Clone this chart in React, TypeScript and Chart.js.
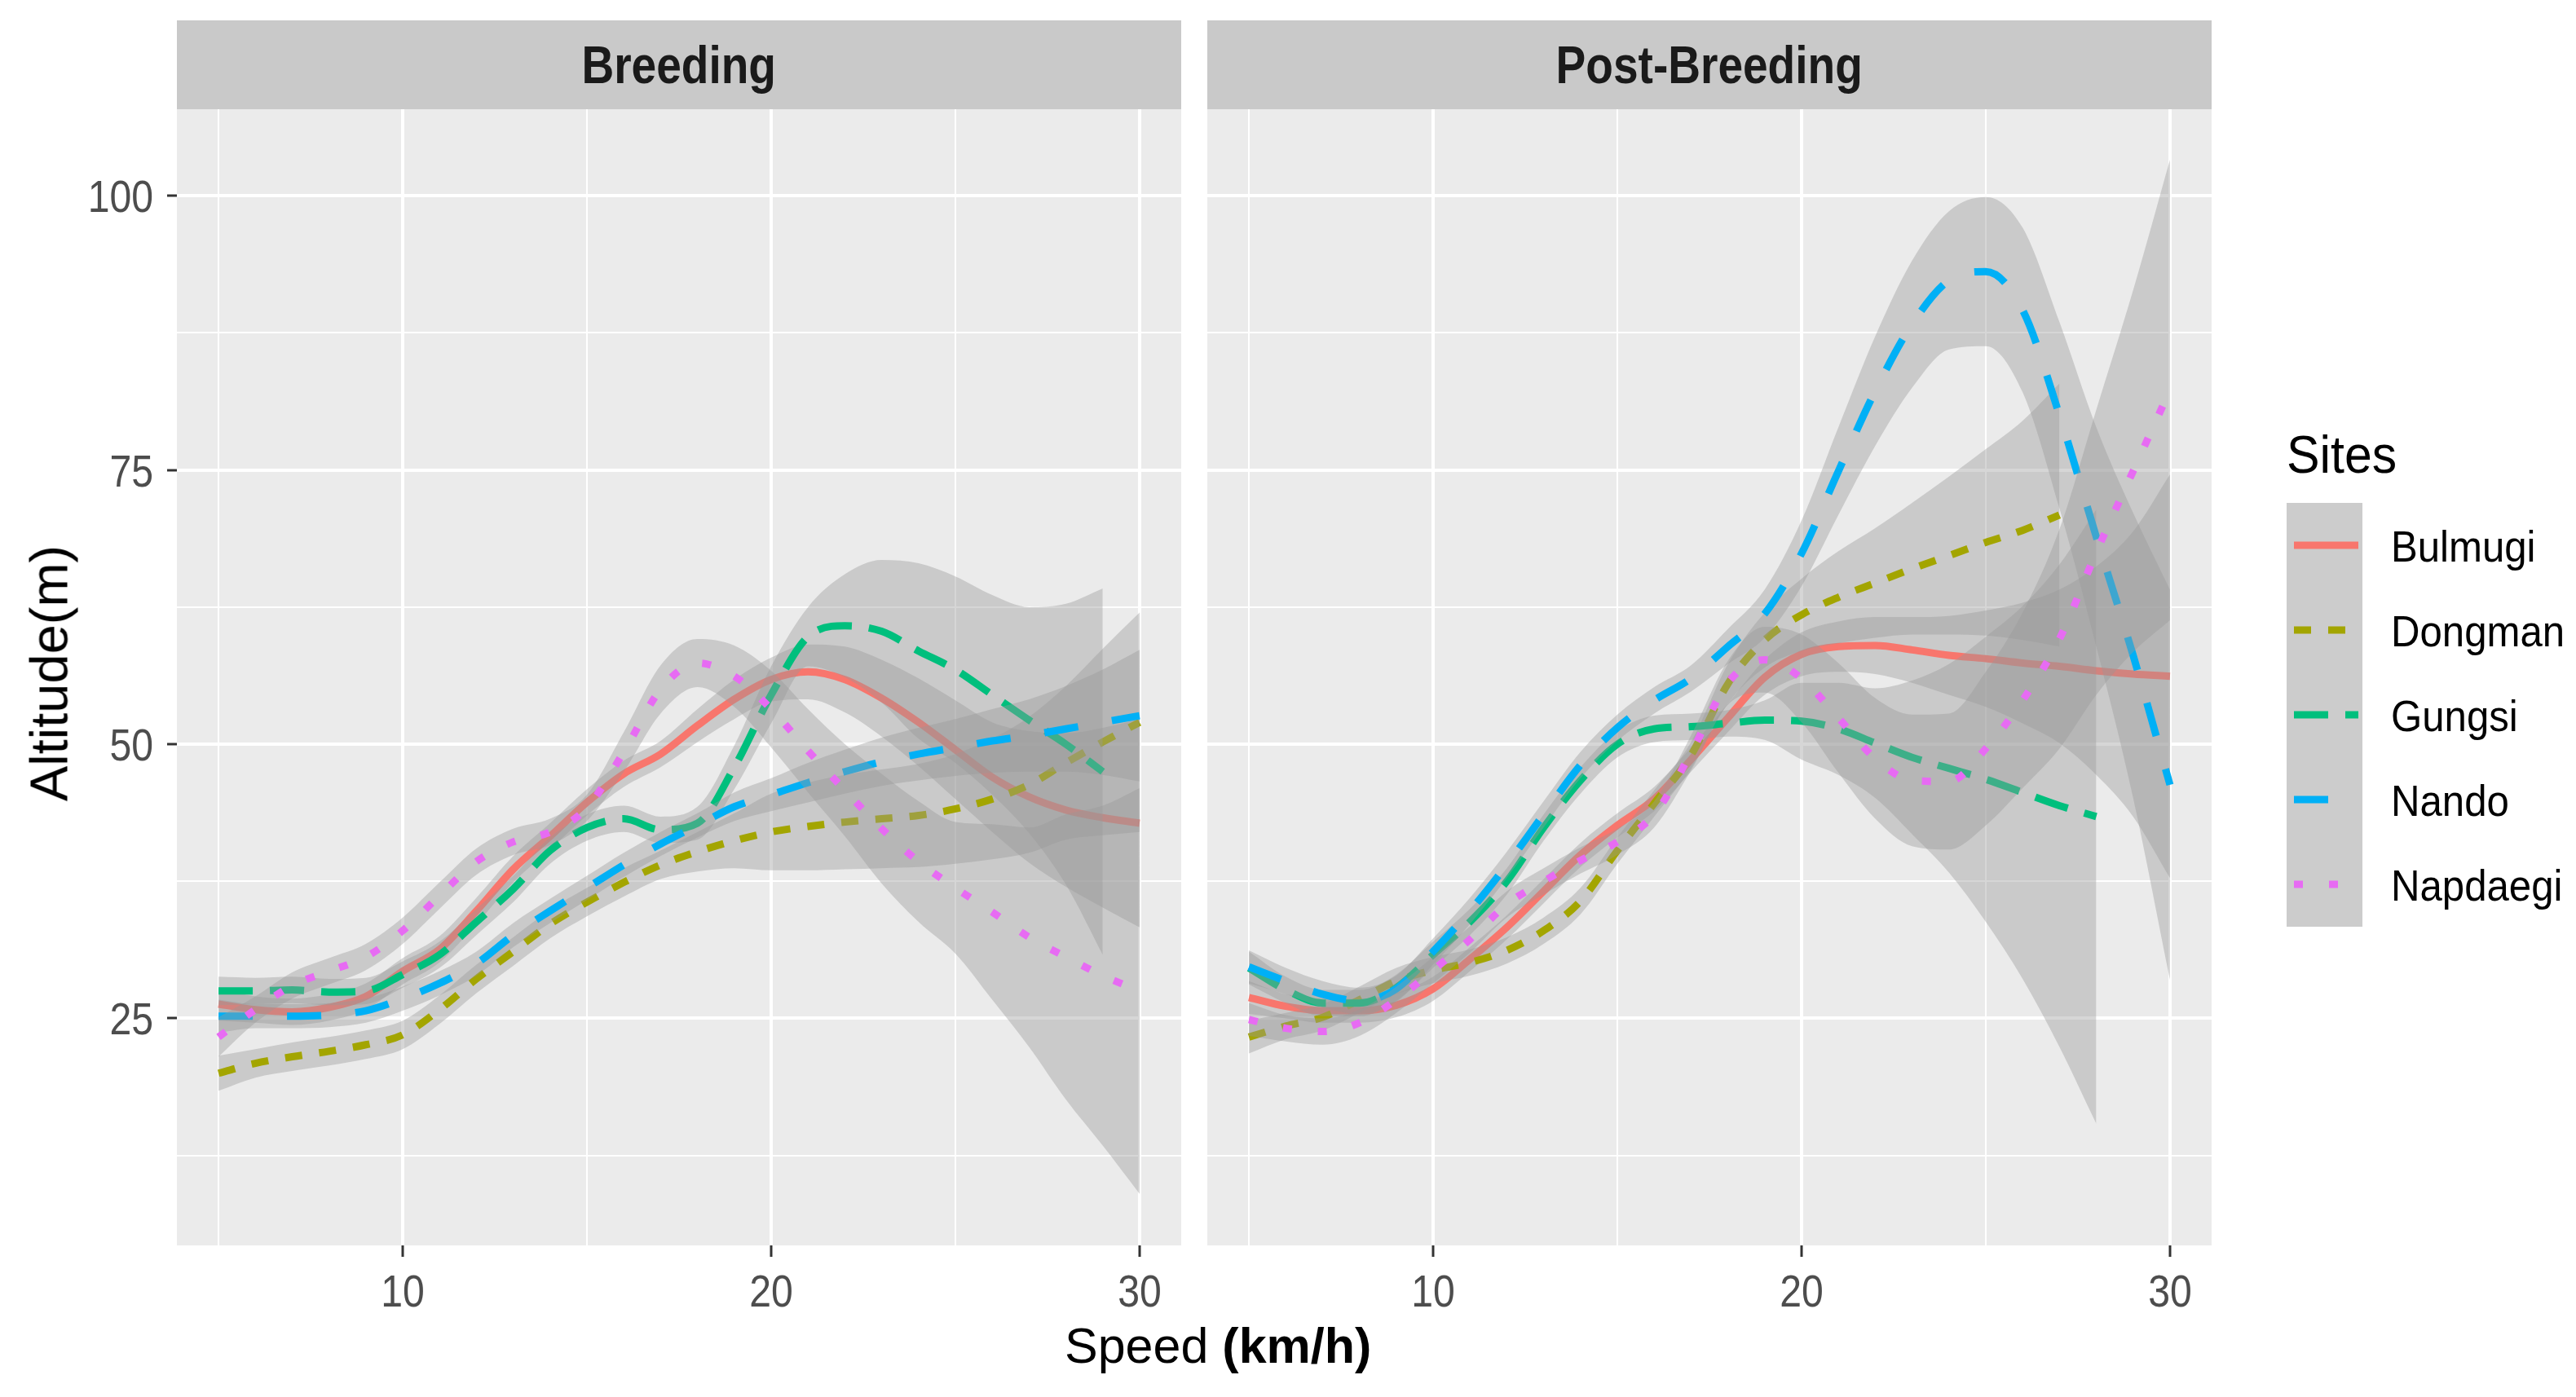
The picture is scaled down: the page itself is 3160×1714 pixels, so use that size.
import React, { useEffect, useRef } from "react";
import { Chart, registerables } from "chart.js";

Chart.register(...registerables);

// ---- axes ----
const SPEED = [5, 6, 7, 8, 9, 10, 11, 12, 13, 14, 15, 16, 17, 18, 19, 20, 21, 22, 23, 24, 25, 26, 27, 28, 29, 30];
const X_GRID_TICKS = [5, 10, 15, 20, 25, 30];
const X_TICK_LABELS = [10, 20, 30];
const Y_GRID_TICKS = [12.5, 25, 37.5, 50, 62.5, 75, 87.5, 100];
const Y_TICK_LABELS = [25, 50, 75, 100];
const X_LIMITS = [3.87, 31.13];
const Y_LIMITS = [4.3, 107.9];

// ---- sites ----
const SITES = ["Bulmugi", "Dongman", "Gungsi", "Nando", "Napdaegi"];
const SITE_COLORS = ["#F8766D", "#A3A500", "#00BF7D", "#00B0F6", "#E76BF3"];
const SITE_DASHES = [[], [21, 21], [42, 21], [42, 42], [11, 32]];

// ---- Breeding: smoothed fit and confidence band (altitude, m) ----
const breedingBulmugiFit = [26.3, 25.8, 25.6, 26.0, 27.0, 29.3, 31.3, 34.8, 38.6, 41.6, 44.7, 47.3, 49.1, 51.7, 54.1, 55.9, 56.6, 55.9, 54.2, 52.0, 49.5, 47.0, 45.2, 44.0, 43.3, 42.8];
const breedingBulmugiLower = [24.8, 24.6, 24.4, 24.8, 25.8, 28.1, 30.1, 33.6, 37.4, 40.4, 43.5, 46.1, 47.9, 50.2, 52.3, 53.9, 54.1, 52.9, 50.7, 48.0, 45.0, 42.0, 39.2, 37.0, 35.1, 33.3];
const breedingBulmugiUpper = [27.8, 27.0, 26.8, 27.2, 28.2, 30.5, 32.5, 36.0, 39.8, 42.8, 45.9, 48.5, 50.3, 53.2, 55.9, 57.9, 59.1, 58.9, 57.7, 56.0, 54.0, 52.0, 51.2, 51.0, 51.5, 52.3];

const breedingDongmanFit = [20.0, 20.9, 21.5, 22.0, 22.6, 23.5, 25.8, 28.6, 31.1, 33.6, 35.6, 37.4, 39.0, 40.2, 41.2, 42.0, 42.5, 42.9, 43.2, 43.5, 44.1, 45.0, 46.3, 48.3, 50.2, 52.0];
const breedingDongmanLower = [18.4, 19.6, 20.2, 20.7, 21.3, 22.2, 24.5, 27.3, 29.8, 32.3, 34.3, 36.1, 37.7, 38.4, 38.7, 38.5, 38.5, 38.6, 38.7, 38.8, 39.1, 39.5, 40.1, 41.3, 41.7, 42.0];
const breedingDongmanUpper = [21.6, 22.2, 22.8, 23.3, 23.9, 24.8, 27.1, 29.9, 32.4, 34.9, 36.9, 38.7, 40.3, 42.0, 43.7, 45.5, 46.5, 47.2, 47.7, 48.2, 49.1, 50.5, 52.5, 55.3, 58.7, 62.0];

const breedingGungsiFit = [27.5, 27.5, 27.6, 27.4, 27.5, 29.0, 30.8, 33.8, 36.8, 40.3, 42.4, 43.2, 42.2, 42.8, 47.9, 54.5, 59.8, 60.8, 60.3, 58.5, 56.8, 54.5, 52.2, 50.0, 47.5];
const breedingGungsiLower = [26.2, 26.3, 26.4, 26.2, 26.3, 27.8, 29.6, 32.6, 35.6, 39.1, 41.2, 42.0, 41.0, 41.3, 45.9, 51.9, 57.1, 56.1, 53.8, 50.5, 48.3, 45.4, 41.9, 37.2, 30.8];
const breedingGungsiUpper = [28.8, 28.7, 28.8, 28.6, 28.7, 30.2, 32.0, 35.0, 38.0, 41.5, 43.6, 44.4, 43.4, 44.3, 49.9, 57.1, 62.5, 65.5, 66.8, 66.5, 65.3, 63.6, 62.5, 62.8, 64.2];

const breedingNandoFit = [25.2, 25.2, 25.2, 25.3, 25.7, 26.8, 28.2, 30.0, 32.6, 34.8, 36.9, 39.0, 40.9, 42.6, 44.3, 45.4, 46.5, 47.5, 48.4, 49.1, 49.7, 50.3, 50.8, 51.4, 52.0, 52.6];
const breedingNandoLower = [23.7, 24.1, 24.1, 24.2, 24.6, 25.7, 27.1, 28.9, 31.5, 33.7, 35.8, 37.9, 39.8, 41.5, 43.0, 43.9, 44.7, 45.5, 46.2, 46.7, 47.1, 47.4, 47.5, 47.5, 47.2, 46.6];
const breedingNandoUpper = [26.7, 26.3, 26.3, 26.4, 26.8, 27.9, 29.3, 31.1, 33.7, 35.9, 38.0, 40.1, 42.0, 43.7, 45.6, 46.9, 48.3, 49.5, 50.6, 51.5, 52.3, 53.2, 54.1, 55.3, 56.8, 58.6];

const breedingNapdaegiFit = [23.3, 25.8, 28.0, 29.3, 30.6, 33.0, 36.2, 39.3, 41.1, 42.0, 44.2, 49.3, 55.0, 57.4, 56.2, 53.2, 49.4, 45.8, 42.3, 39.3, 36.9, 34.7, 32.4, 30.6, 28.9, 27.5];
const breedingNapdaegiLower = [21.5, 24.6, 26.8, 28.1, 29.4, 31.8, 35.0, 38.1, 39.9, 40.8, 43.0, 47.5, 52.8, 55.2, 53.4, 49.7, 45.6, 41.6, 37.3, 33.8, 30.9, 26.7, 22.4, 17.6, 13.4, 9.0];
const breedingNapdaegiUpper = [25.1, 27.0, 29.2, 30.5, 31.8, 34.2, 37.4, 40.5, 42.3, 43.2, 45.4, 51.1, 57.2, 59.6, 59.0, 56.7, 53.2, 50.0, 47.3, 44.8, 42.9, 42.7, 42.4, 43.6, 44.4, 46.0];

// ---- Post-Breeding: smoothed fit and confidence band (altitude, m) ----
const postBulmugiFit = [26.9, 26.1, 25.7, 25.7, 26.2, 27.7, 30.4, 33.3, 36.6, 39.9, 42.6, 45.0, 48.6, 52.4, 56.1, 58.2, 58.9, 59.0, 58.6, 58.1, 57.8, 57.4, 57.1, 56.7, 56.4, 56.2];
const postBulmugiLower = [25.4, 25.0, 24.6, 24.6, 25.1, 26.6, 29.3, 32.2, 35.5, 38.8, 41.5, 43.9, 47.5, 51.1, 54.5, 56.2, 56.6, 56.4, 55.6, 54.5, 53.4, 51.9, 50.1, 47.2, 43.4, 37.8];
const postBulmugiUpper = [28.4, 27.2, 26.8, 26.8, 27.3, 28.8, 31.5, 34.4, 37.7, 41.0, 43.7, 46.1, 49.7, 53.7, 57.7, 60.2, 61.2, 61.6, 61.6, 61.7, 62.2, 62.9, 64.1, 66.2, 69.4, 74.6];

const postDongmanFit = [23.3, 24.3, 25.1, 26.7, 28.4, 29.4, 30.1, 31.2, 33.0, 35.7, 40.3, 44.6, 49.0, 55.5, 59.5, 61.8, 63.4, 64.7, 66.0, 67.2, 68.4, 69.5, 70.9];
const postDongmanLower = [21.8, 23.1, 23.9, 25.5, 27.2, 28.2, 28.9, 30.0, 31.8, 34.5, 39.1, 43.4, 47.8, 53.7, 57.0, 58.5, 59.2, 59.7, 60.0, 60.0, 59.9, 59.5, 58.9];
const postDongmanUpper = [24.8, 25.5, 26.3, 27.9, 29.6, 30.6, 31.3, 32.4, 34.2, 36.9, 41.5, 45.8, 50.2, 57.3, 62.0, 65.1, 67.6, 69.7, 72.0, 74.4, 76.9, 79.5, 82.9];

const postGungsiFit = [29.6, 27.6, 26.4, 26.4, 27.8, 30.8, 33.8, 37.5, 42.4, 46.7, 50.0, 51.4, 51.6, 51.9, 52.2, 52.1, 51.4, 50.1, 48.8, 47.8, 46.8, 45.6, 44.4, 43.4];
const postGungsiLower = [28.1, 26.4, 25.2, 25.2, 26.6, 29.6, 32.6, 36.3, 41.2, 45.5, 48.8, 50.2, 50.4, 50.7, 50.4, 48.6, 47.2, 45.1, 41.8, 38.3, 33.8, 28.6, 22.4, 15.4];
const postGungsiUpper = [31.1, 28.8, 27.6, 27.6, 29.0, 32.0, 35.0, 38.7, 43.6, 47.9, 51.2, 52.6, 52.8, 53.1, 54.0, 55.6, 55.6, 55.1, 55.8, 57.3, 59.8, 62.6, 66.4, 71.4];

const postNandoFit = [29.7, 28.4, 27.2, 26.6, 27.7, 31.1, 34.8, 39.0, 43.6, 48.1, 51.5, 54.0, 56.0, 58.9, 61.9, 67.4, 74.9, 82.2, 88.3, 92.3, 93.1, 89.6, 80.0, 68.9, 58.1, 46.3];
const postNandoLower = [28.2, 27.2, 26.0, 25.4, 26.5, 29.9, 33.6, 37.8, 42.4, 46.9, 50.3, 52.8, 54.8, 57.3, 59.7, 64.4, 70.9, 77.2, 82.5, 86.0, 86.3, 82.1, 71.5, 58.9, 45.1, 28.5];
const postNandoUpper = [31.2, 29.6, 28.4, 27.8, 28.9, 32.3, 36.0, 40.2, 44.8, 49.3, 52.7, 55.2, 57.2, 60.5, 64.1, 70.4, 78.9, 87.2, 94.1, 98.6, 99.9, 97.1, 88.5, 78.9, 71.1, 64.1];

const postNapdaegiFit = [24.9, 24.1, 23.8, 24.6, 26.7, 29.4, 32.2, 35.4, 37.5, 39.4, 41.1, 43.6, 49.2, 55.6, 57.7, 56.0, 52.4, 48.7, 46.7, 46.6, 49.6, 54.0, 59.6, 67.5, 74.9, 82.3];
const postNapdaegiLower = [23.4, 22.9, 22.6, 23.4, 25.5, 28.2, 31.0, 34.2, 36.3, 38.2, 39.9, 42.4, 47.6, 53.6, 54.7, 52.0, 47.4, 43.2, 40.7, 40.4, 42.6, 46.0, 49.6, 54.5, 58.4, 61.3];
const postNapdaegiUpper = [26.4, 25.3, 25.0, 25.8, 27.9, 30.6, 33.4, 36.6, 38.7, 40.6, 42.3, 44.8, 50.8, 57.6, 60.7, 60.0, 57.4, 54.2, 52.7, 52.8, 56.6, 62.0, 69.6, 80.5, 91.4, 103.3];

const FACETS = [
  {
    title: "Breeding",
    fits: [breedingBulmugiFit, breedingDongmanFit, breedingGungsiFit, breedingNandoFit, breedingNapdaegiFit],
    lowers: [breedingBulmugiLower, breedingDongmanLower, breedingGungsiLower, breedingNandoLower, breedingNapdaegiLower],
    uppers: [breedingBulmugiUpper, breedingDongmanUpper, breedingGungsiUpper, breedingNandoUpper, breedingNapdaegiUpper],
  },
  {
    title: "Post-Breeding",
    fits: [postBulmugiFit, postDongmanFit, postGungsiFit, postNandoFit, postNapdaegiFit],
    lowers: [postBulmugiLower, postDongmanLower, postGungsiLower, postNandoLower, postNapdaegiLower],
    uppers: [postBulmugiUpper, postDongmanUpper, postGungsiUpper, postNandoUpper, postNapdaegiUpper],
  },
];

// ---- layout ----
const W = 3160;
const H = 1714;
const PANEL_TOP = 134;
const PANEL_BOTTOM = 1528;
const STRIP_TOP = 25;
const FONT = "'Liberation Sans', Arial, Helvetica, sans-serif";
const RIBBON = "rgba(153,153,153,0.4)";
const PANEL_BG = "#EBEBEB";
const STRIP_BG = "#C9C9C9";
const KEY_BG = "#CCCCCC";

// canvas placement: [canvas left, canvas width, panel left, panel right] in page px
const CANVAS_LAYOUT = [
  { left: 0, width: 1465, panelLeft: 217, panelRight: 1449, showY: true },
  { left: 1465, width: 1265, panelLeft: 1481, panelRight: 2713, showY: false },
];

const points = (values: number[]) => values.map((y, k) => ({ x: SPEED[k], y }));

function buildDatasets(facet: typeof FACETS[number]) {
  const datasets: any[] = [];
  SITES.forEach((site, i) => {
    const seq = datasets.length;
    const common = { pointRadius: 0, pointHoverRadius: 0, cubicInterpolationMode: "monotone" as const };
    datasets.push({
      ...common,
      label: `${site} upper`,
      data: points(facet.uppers[i]),
      borderColor: "rgba(0,0,0,0)",
      borderWidth: 0,
      backgroundColor: RIBBON,
      fill: false,
      order: 100 - seq,
    });
    datasets.push({
      ...common,
      label: `${site} lower`,
      data: points(facet.lowers[i]),
      borderColor: "rgba(0,0,0,0)",
      borderWidth: 0,
      backgroundColor: RIBBON,
      fill: "-1",
      order: 100 - seq - 1,
    });
    datasets.push({
      ...common,
      label: site,
      data: points(facet.fits[i]),
      borderColor: SITE_COLORS[i],
      backgroundColor: SITE_COLORS[i],
      borderWidth: 9,
      borderDash: SITE_DASHES[i],
      borderCapStyle: "butt",
      borderJoinStyle: "round",
      fill: false,
      order: 100 - seq - 2,
    });
  });
  return datasets;
}

const panelBackground = {
  id: "panelBackground",
  beforeDraw(chart: any) {
    const { ctx, chartArea } = chart;
    ctx.save();
    ctx.fillStyle = PANEL_BG;
    ctx.fillRect(chartArea.left, chartArea.top, chartArea.right - chartArea.left, chartArea.bottom - chartArea.top);
    ctx.restore();
  },
};

// Tick labels set in a slightly condensed face
function tickLabels(showY: boolean) {
  return {
    id: "tickLabels",
    afterDraw(chart: any) {
      const { ctx } = chart;
      const xs = chart.scales.x;
      const ys = chart.scales.y;
      ctx.save();
      ctx.fillStyle = "#4D4D4D";
      ctx.font = `56px ${FONT}`;
      ctx.textBaseline = "alphabetic";
      X_TICK_LABELS.forEach((v) => {
        const px = xs.getPixelForValue(v);
        ctx.save();
        ctx.translate(px, 1603);
        ctx.scale(0.86, 1);
        ctx.textAlign = "center";
        ctx.fillText(String(v), 0, 0);
        ctx.restore();
      });
      if (showY) {
        Y_TICK_LABELS.forEach((v) => {
          const py = ys.getPixelForValue(v);
          ctx.save();
          ctx.translate(188, py + 20);
          ctx.scale(0.86, 1);
          ctx.textAlign = "right";
          ctx.fillText(String(v), 0, 0);
          ctx.restore();
        });
      }
      ctx.restore();
    },
  };
}

function FacetPanel({ facet, layout }: { facet: typeof FACETS[number]; layout: typeof CANVAS_LAYOUT[number] }) {
  const ref = useRef<HTMLCanvasElement | null>(null);
  useEffect(() => {
    if (!ref.current) return;
    const yAxisWidth = layout.panelLeft - layout.left;
    const padRight = layout.left + layout.width - layout.panelRight;
    const isMajorX = (v: number) => X_TICK_LABELS.includes(v);
    const isMajorY = (v: number) => Y_TICK_LABELS.includes(v);
    const chart = new Chart(ref.current, {
      type: "line",
      data: { datasets: buildDatasets(facet) },
      options: {
        responsive: false,
        animation: false,
        devicePixelRatio: 1,
        events: [],
        layout: { padding: { top: PANEL_TOP, right: padRight, left: 0, bottom: 0 } },
        plugins: {
          legend: { display: false },
          tooltip: { enabled: false },
          title: { display: false },
        },
        scales: {
          x: {
            type: "linear",
            min: X_LIMITS[0],
            max: X_LIMITS[1],
            afterBuildTicks: (scale: any) => {
              scale.ticks = X_GRID_TICKS.map((value) => ({ value }));
            },
            afterFit: (scale: any) => {
              scale.height = H - PANEL_BOTTOM;
            },
            ticks: { display: false },
            border: { display: false },
            grid: {
              color: "#FFFFFF",
              lineWidth: (c: any) => (isMajorX(c.tick?.value) ? 4 : 2),
              drawTicks: true,
              tickLength: 14,
              tickWidth: 3,
              tickColor: (c: any) => (isMajorX(c.tick?.value) ? "#333333" : "rgba(0,0,0,0)"),
            },
          },
          y: {
            type: "linear",
            min: Y_LIMITS[0],
            max: Y_LIMITS[1],
            afterBuildTicks: (scale: any) => {
              scale.ticks = Y_GRID_TICKS.map((value) => ({ value }));
            },
            afterFit: (scale: any) => {
              scale.width = yAxisWidth;
            },
            ticks: { display: false },
            border: { display: false },
            grid: {
              color: "#FFFFFF",
              lineWidth: (c: any) => (isMajorY(c.tick?.value) ? 4 : 2),
              drawTicks: layout.showY,
              tickLength: 12,
              tickWidth: 3,
              tickColor: (c: any) => (isMajorY(c.tick?.value) ? "#333333" : "rgba(0,0,0,0)"),
            },
          },
        },
      } as any,
      plugins: [panelBackground, tickLabels(layout.showY)],
    });
    return () => chart.destroy();
  }, [facet, layout]);

  return (
    <>
      <canvas
        ref={ref}
        width={layout.width}
        height={H}
        style={{ position: "absolute", left: layout.left, top: 0, width: layout.width, height: H }}
      />
      <div
        style={{
          position: "absolute",
          left: layout.panelLeft,
          top: STRIP_TOP,
          width: layout.panelRight - layout.panelLeft,
          height: PANEL_TOP - STRIP_TOP,
          background: STRIP_BG,
          display: "flex",
          alignItems: "center",
          justifyContent: "center",
        }}
      >
        <span
          style={{
            fontFamily: FONT,
            fontWeight: 700,
            fontSize: 64,
            lineHeight: 1,
            color: "#1A1A1A",
            transform: "scaleX(0.86)",
            whiteSpace: "nowrap",
          }}
        >
          {facet.title}
        </span>
      </div>
    </>
  );
}

function Legend() {
  const keyLeft = 2805;
  const keyTop = 617;
  const rowH = 104;
  return (
    <>
      <div
        style={{
          position: "absolute",
          left: keyLeft,
          top: 580 - 0.8465 * 64,
          fontFamily: FONT,
          fontSize: 64,
          lineHeight: 1,
          color: "#000",
          transform: "scaleX(0.95)",
          transformOrigin: "left center",
          whiteSpace: "nowrap",
        }}
      >
        Sites
      </div>
      <svg
        width={93}
        height={rowH * SITES.length}
        style={{ position: "absolute", left: keyLeft, top: keyTop, display: "block" }}
      >
        <rect x={0} y={0} width={93} height={rowH * SITES.length} fill={KEY_BG} />
        {SITES.map((site, i) => (
          <line
            key={site}
            x1={9}
            x2={88}
            y1={rowH * i + rowH / 2}
            y2={rowH * i + rowH / 2}
            stroke={SITE_COLORS[i]}
            strokeWidth={9}
            strokeDasharray={SITE_DASHES[i].length ? SITE_DASHES[i].join(" ") : undefined}
            strokeLinecap="butt"
          />
        ))}
      </svg>
      {SITES.map((site, i) => {
        const baseline = keyTop + rowH * i + rowH / 2 + 19.5;
        return (
          <div
            key={site}
            style={{
              position: "absolute",
              left: 2933,
              top: baseline - 0.8465 * 54,
              fontFamily: FONT,
              fontSize: 54,
              lineHeight: 1,
              color: "#000",
              transform: "scaleX(0.91)",
              transformOrigin: "left center",
              whiteSpace: "nowrap",
            }}
          >
            {site}
          </div>
        );
      })}
    </>
  );
}

export default function App() {
  useEffect(() => {
    document.body.style.margin = "0";
    document.documentElement.style.overflow = "hidden";
  }, []);

  return (
    <div
      style={{
        position: "absolute",
        left: 0,
        top: 0,
        width: W,
        height: H,
        background: "#FFFFFF",
        overflow: "hidden",
      }}
    >
      {FACETS.map((facet, i) => (
        <FacetPanel key={facet.title} facet={facet} layout={CANVAS_LAYOUT[i]} />
      ))}

      <div
        style={{
          position: "absolute",
          left: 60,
          top: 826,
          transform: "translate(-50%, -50%) rotate(-90deg)",
          fontFamily: FONT,
          fontSize: 65,
          lineHeight: 1,
          color: "#000",
          whiteSpace: "nowrap",
        }}
      >
        Altitude(m)
      </div>

      <div
        style={{
          position: "absolute",
          left: 1306,
          top: 1673 - 0.8465 * 61,
          fontFamily: FONT,
          fontSize: 61,
          lineHeight: 1,
          color: "#000",
          whiteSpace: "nowrap",
        }}
      >
        Speed <span style={{ fontWeight: 700 }}>(km/h)</span>
      </div>

      <Legend />
    </div>
  );
}
